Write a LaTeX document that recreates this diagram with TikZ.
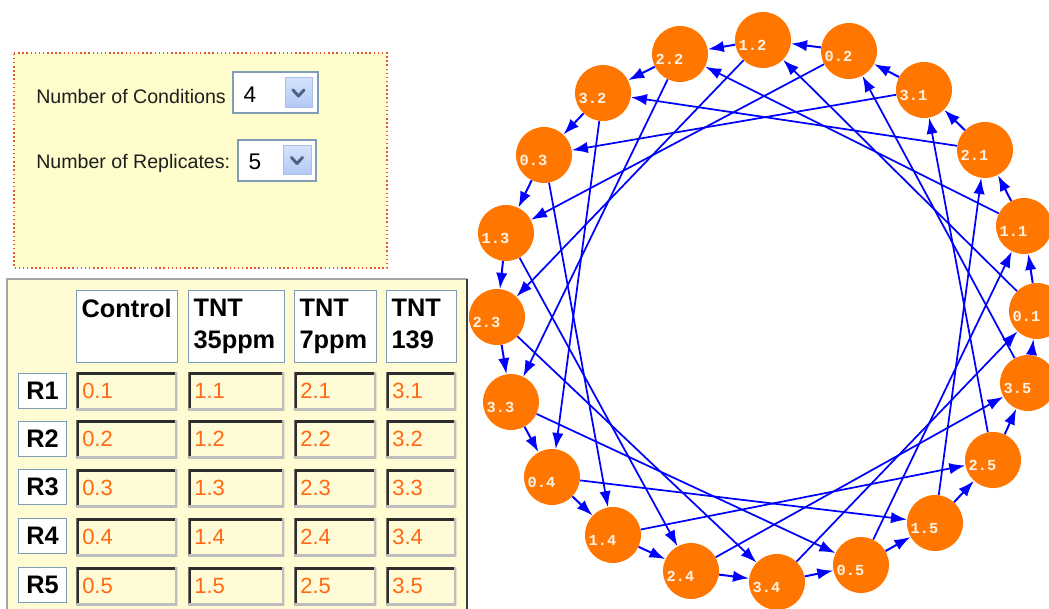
\documentclass[tikz,border=0pt]{standalone}
\usepackage{tikz}
\usepackage{amsmath}
\usepackage{xcolor}
\usepackage{fontspec}
\setmainfont{Liberation Sans}
\newfontfamily\samplefont{Liberation Mono}
\usetikzlibrary{arrows.meta}

\definecolor{sampleorange}{RGB}{255,119,0}
\definecolor{labelwhite}{RGB}{255,242,228}
\definecolor{hybblue}{RGB}{0,0,255}
\definecolor{formyellow}{RGB}{255,253,204}
\definecolor{dotred}{RGB}{225,90,50}
\definecolor{panelyellow}{RGB}{255,251,210}
\definecolor{panelgray}{RGB}{165,165,165}
\definecolor{paneldark}{RGB}{60,60,60}
\definecolor{boxblue}{RGB}{127,157,185}
\definecolor{cellyellow}{RGB}{255,251,214}
\definecolor{valorange}{RGB}{255,105,20}
\definecolor{insetdark}{RGB}{45,45,45}
\definecolor{insetlight}{RGB}{190,190,190}
\definecolor{formgray}{RGB}{30,30,30}
\definecolor{btntop}{RGB}{212,226,252}
\definecolor{btnbottom}{RGB}{178,200,245}
\definecolor{btnedge}{RGB}{170,190,230}
\definecolor{chevgray}{RGB}{77,97,133}

\begin{document}
\begin{tikzpicture}[x=0.75pt,y=0.75pt,yscale=-1,xscale=1,
  sample/.style={circle, fill=sampleorange, minimum size=42pt, inner sep=0pt, text=labelwhite, text height=15.2pt, text depth=0pt, font=\samplefont\bfseries\fontsize{11.5pt}{13pt}\selectfont, execute at begin node={\hspace*{-15.8pt}}},
  ring/.style={draw=hybblue, line width=1.5pt, -{Latex[length=12pt,width=8.5pt]}},
  chord/.style={draw=hybblue, line width=1.3pt, -{Latex[length=12pt,width=8.5pt]}},
  headcell/.style={rectangle, anchor=north west, draw=boxblue, line width=0.9pt, fill=white, text=black, inner xsep=3.75pt, text width=#1, align=left, minimum height=54pt, font=\bfseries\fontsize{19pt}{24pt}\selectfont},
  rowcell/.style={rectangle, anchor=north west, draw=boxblue, line width=0.9pt, fill=white, text=black, minimum width=36pt, minimum height=26.25pt, inner sep=0pt, font=\bfseries\fontsize{19pt}{24pt}\selectfont},
  valcell/.style={rectangle, anchor=north west, fill=cellyellow, text=valorange, inner xsep=4.5pt, inner ysep=0pt, text width=#1, align=left, minimum height=28.5pt, font=\fontsize{16.5pt}{20pt}\selectfont,
    path picture={
      \draw [line width=4.5pt, draw=insetdark] (path picture bounding box.south west) -- (path picture bounding box.north west) -- (path picture bounding box.north east);
      \draw [line width=3pt, draw=insetlight] (path picture bounding box.north east) -- (path picture bounding box.south east) -- (path picture bounding box.south west);}},
  formtext/.style={anchor=west, inner sep=0.75pt, text=formgray, font=\fontsize{14.7pt}{18pt}\selectfont},
  dropval/.style={anchor=center, inner sep=0.75pt, text=black, font=\fontsize{17pt}{20pt}\selectfont},
  dropbox/.style={draw=boxblue, line width=0.9pt, fill=white},
  dropbtn/.style={draw=btnedge, line width=0.75pt, top color=btntop, bottom color=btnbottom},
  chevron/.style={draw=chevgray, line width=2.2pt, line cap=round, line join=round}
]
\fill [white] (0,0) rectangle (1049,609);
\useasboundingbox (0,0) rectangle (1049,609);

%Shape: Rectangle
\draw [draw=dotred, line width=1.1pt, dotted, fill=formyellow] (14,53) -- (387,53) -- (387,268) -- (14,268) -- cycle ;
%Shape: Rectangle
\draw [dropbox] (233,72) rectangle (318,113) ;
\draw [dropbtn] (285,78) rectangle (312,108) ;
\draw [chevron] (293,90) -- (298.5,96) -- (304,90) ;
%Shape: Rectangle
\draw [dropbox] (238,140) rectangle (316,181) ;
\draw [dropbtn] (283,146) rectangle (311,175) ;
\draw [chevron] (291.5,157.5) -- (297,163.5) -- (302.5,157.5) ;

% Text Node
\draw (35,96) node (condlbl) [formtext] {Number of Conditions};
% Text Node
\draw (35,163) node (replbl) [formtext] {Number of Replicates:};
% Text Node
\draw (250,95) node (condval) [dropval] {4};
% Text Node
\draw (255,162) node (repval) [dropval] {5};

%Shape: Rectangle
\fill [panelyellow] (7,279) rectangle (467,615) ;
\draw [panelgray, line width=1.5pt] (7,615) -- (7,279) -- (467,279) ;
\draw [paneldark, line width=1.5pt] (467,279) -- (467,615) ;

% Header cells
\node [headcell=68.25pt] (hctrl) at (76,290) {Control\\\phantom{p}};
\node [headcell=64.5pt] (h35) at (188,290) {TNT\\35ppm};
\node [headcell=54pt] (h7) at (294,290) {TNT\\7ppm};
\node [headcell=45pt] (h139) at (386,290) {TNT\\139\phantom{p}};

% Replicate labels
\node [rowcell] (r1) at (18,373) {R1};
\node [rowcell] (r2) at (18,421) {R2};
\node [rowcell] (r3) at (18,469) {R3};
\node [rowcell] (r4) at (18,518) {R4};
\node [rowcell] (r5) at (18,567) {R5};

% Sample fields
\node [valcell=66.75pt] (v01) at (76,372) {0.1};
\node [valcell=63pt] (v11) at (188,372) {1.1};
\node [valcell=52.5pt] (v21) at (294,372) {2.1};
\node [valcell=43.5pt] (v31) at (386,372) {3.1};
\node [valcell=66.75pt] (v02) at (76,420) {0.2};
\node [valcell=63pt] (v12) at (188,420) {1.2};
\node [valcell=52.5pt] (v22) at (294,420) {2.2};
\node [valcell=43.5pt] (v32) at (386,420) {3.2};
\node [valcell=66.75pt] (v03) at (76,469) {0.3};
\node [valcell=63pt] (v13) at (188,469) {1.3};
\node [valcell=52.5pt] (v23) at (294,469) {2.3};
\node [valcell=43.5pt] (v33) at (386,469) {3.3};
\node [valcell=66.75pt] (v04) at (76,518) {0.4};
\node [valcell=63pt] (v14) at (188,518) {1.4};
\node [valcell=52.5pt] (v24) at (294,518) {2.4};
\node [valcell=43.5pt] (v34) at (386,518) {3.4};
\node [valcell=66.75pt] (v05) at (76,567) {0.5};
\node [valcell=63pt] (v15) at (188,567) {1.5};
\node [valcell=52.5pt] (v25) at (294,567) {2.5};
\node [valcell=43.5pt] (v35) at (386,567) {3.5};

%Shape: Circle
\node [sample] (s01) at (1037,311) {0.1};
\node [sample] (s11) at (1024,226) {1.1};
\node [sample] (s21) at (985,150) {2.1};
\node [sample] (s31) at (924,90) {3.1};
\node [sample] (s02) at (849,51) {0.2};
\node [sample] (s12) at (763,40) {1.2};
\node [sample] (s22) at (680,54) {2.2};
\node [sample] (s32) at (603,93) {3.2};
\node [sample] (s03) at (544,155) {0.3};
\node [sample] (s13) at (506,233) {1.3};
\node [sample] (s23) at (497,317) {2.3};
\node [sample] (s33) at (511,402) {3.3};
\node [sample] (s04) at (552,477) {0.4};
\node [sample] (s14) at (613,535) {1.4};
\node [sample] (s24) at (691,571) {2.4};
\node [sample] (s34) at (777,582) {3.4};
\node [sample] (s05) at (861,565) {0.5};
\node [sample] (s15) at (935,523) {1.5};
\node [sample] (s25) at (993,460) {2.5};
\node [sample] (s35) at (1028,383) {3.5};

%Straight Lines: the loop
\draw [ring] (s01) -- (s11) ;
\draw [ring] (s11) -- (s21) ;
\draw [ring] (s21) -- (s31) ;
\draw [ring] (s31) -- (s02) ;
\draw [ring] (s02) -- (s12) ;
\draw [ring] (s12) -- (s22) ;
\draw [ring] (s22) -- (s32) ;
\draw [ring] (s32) -- (s03) ;
\draw [ring] (s03) -- (s13) ;
\draw [ring] (s13) -- (s23) ;
\draw [ring] (s23) -- (s33) ;
\draw [ring] (s33) -- (s04) ;
\draw [ring] (s04) -- (s14) ;
\draw [ring] (s14) -- (s24) ;
\draw [ring] (s24) -- (s34) ;
\draw [ring] (s34) -- (s05) ;
\draw [ring] (s05) -- (s15) ;
\draw [ring] (s15) -- (s25) ;
\draw [ring] (s25) -- (s35) ;
\draw [ring] (s35) -- (s01) ;

%Straight Lines: across the loop
\draw [chord] (s01) -- (s12) ;
\draw [chord] (s11) -- (s22) ;
\draw [chord] (s21) -- (s32) ;
\draw [chord] (s31) -- (s03) ;
\draw [chord] (s02) -- (s13) ;
\draw [chord] (s12) -- (s23) ;
\draw [chord] (s22) -- (s33) ;
\draw [chord] (s32) -- (s04) ;
\draw [chord] (s03) -- (s14) ;
\draw [chord] (s13) -- (s24) ;
\draw [chord] (s23) -- (s34) ;
\draw [chord] (s33) -- (s05) ;
\draw [chord] (s04) -- (s15) ;
\draw [chord] (s14) -- (s25) ;
\draw [chord] (s24) -- (s35) ;
\draw [chord] (s34) -- (s01) ;
\draw [chord] (s05) -- (s11) ;
\draw [chord] (s15) -- (s21) ;
\draw [chord] (s25) -- (s31) ;
\draw [chord] (s35) -- (s02) ;

\end{tikzpicture}
\end{document}
